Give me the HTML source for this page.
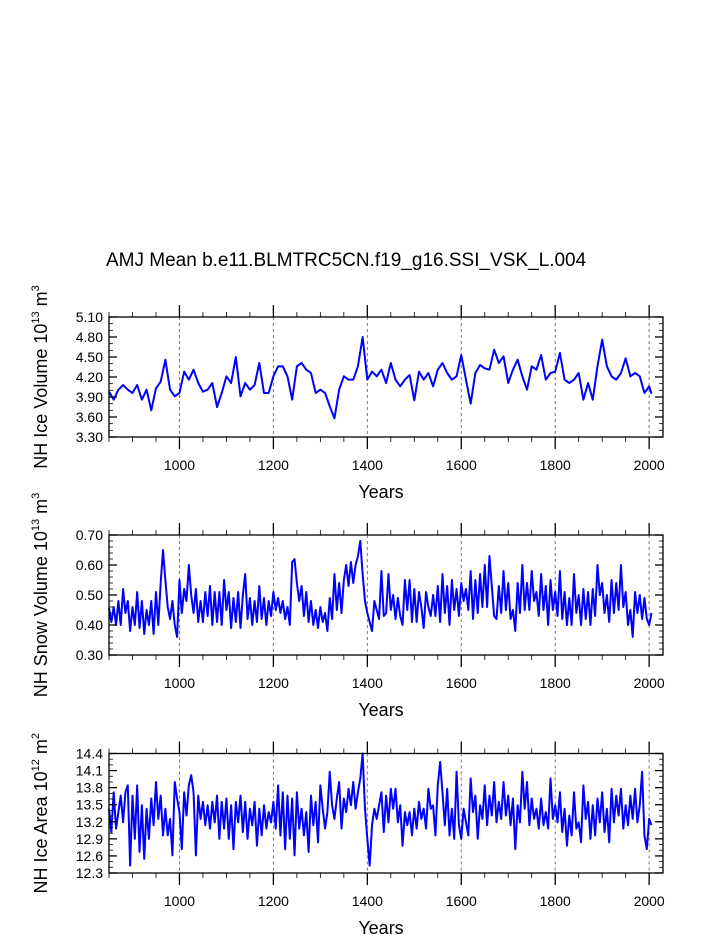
<!DOCTYPE html>
<html><head><meta charset="utf-8"><style>
body{margin:0;background:#fff;}
svg{display:block;font-family:"Liberation Sans",sans-serif;}
</style></head><body>
<svg id="chart" width="723" height="935" viewBox="0 0 723 935">
<text x="106" y="266" font-size="19">AMJ Mean b.e11.BLMTRC5CN.f19_g16.SSI_VSK_L.004</text>
</svg>
<script>
const iceVolYears=[850,860,870,880,890,900,910,920,930,940,950,960,970,980,990,1000,1010,1020,1030,1040,1050,1060,1070,1080,1090,1100,1110,1120,1130,1140,1150,1160,1170,1180,1190,1200,1210,1220,1230,1240,1250,1260,1270,1280,1290,1300,1310,1320,1330,1340,1350,1360,1370,1380,1390,1400,1410,1420,1430,1440,1450,1460,1470,1480,1490,1500,1510,1520,1530,1540,1550,1560,1570,1580,1590,1600,1610,1620,1630,1640,1650,1660,1670,1680,1690,1700,1710,1720,1730,1740,1750,1760,1770,1780,1790,1800,1810,1820,1830,1840,1850,1860,1870,1880,1890,1900,1910,1920,1930,1940,1950,1960,1970,1980,1990,2000,2005];
const iceVolValues=[3.98,3.86,4.01,4.08,4.01,3.96,4.08,3.86,4.01,3.70,4.03,4.13,4.46,4.01,3.91,3.96,4.28,4.16,4.31,4.11,3.98,4.01,4.11,3.75,3.96,4.21,4.11,4.50,3.91,4.11,4.01,4.08,4.41,3.96,3.96,4.21,4.36,4.36,4.21,3.86,4.36,4.41,4.31,4.26,3.96,4.01,3.96,3.76,3.58,4.01,4.21,4.16,4.16,4.36,4.80,4.16,4.28,4.21,4.31,4.11,4.41,4.16,4.06,4.16,4.23,3.85,4.28,4.16,4.26,4.06,4.31,4.41,4.26,4.16,4.21,4.53,4.16,3.80,4.26,4.38,4.33,4.31,4.61,4.41,4.51,4.11,4.31,4.46,4.21,4.01,4.36,4.31,4.53,4.16,4.26,4.28,4.56,4.16,4.11,4.16,4.26,3.86,4.11,3.86,4.36,4.76,4.36,4.21,4.16,4.26,4.48,4.21,4.26,4.21,3.96,4.06,3.95];
const snowStart=850;
const snowValues=[0.456,0.41,0.46,0.40,0.48,0.40,0.52,0.44,0.48,0.38,0.46,0.40,0.51,0.39,0.48,0.37,0.45,0.40,0.48,0.37,0.51,0.40,0.54,0.65,0.55,0.46,0.42,0.48,0.40,0.36,0.55,0.44,0.52,0.48,0.60,0.50,0.44,0.52,0.41,0.48,0.41,0.51,0.43,0.53,0.40,0.51,0.41,0.51,0.40,0.55,0.45,0.51,0.39,0.49,0.41,0.51,0.39,0.50,0.57,0.42,0.49,0.40,0.48,0.41,0.53,0.42,0.49,0.40,0.48,0.43,0.51,0.45,0.49,0.44,0.48,0.42,0.46,0.40,0.61,0.62,0.54,0.48,0.53,0.43,0.51,0.41,0.48,0.40,0.45,0.39,0.46,0.41,0.44,0.38,0.49,0.42,0.57,0.45,0.54,0.44,0.55,0.60,0.53,0.61,0.54,0.60,0.63,0.68,0.57,0.48,0.44,0.41,0.38,0.48,0.45,0.42,0.58,0.43,0.44,0.57,0.45,0.50,0.42,0.49,0.43,0.40,0.55,0.45,0.55,0.41,0.52,0.41,0.51,0.46,0.39,0.51,0.46,0.43,0.50,0.43,0.53,0.41,0.57,0.44,0.53,0.40,0.55,0.45,0.52,0.43,0.54,0.48,0.52,0.45,0.58,0.42,0.55,0.44,0.57,0.46,0.60,0.46,0.63,0.53,0.43,0.42,0.53,0.44,0.58,0.45,0.54,0.42,0.45,0.38,0.54,0.44,0.60,0.45,0.54,0.45,0.58,0.48,0.51,0.43,0.57,0.45,0.53,0.40,0.55,0.45,0.51,0.43,0.58,0.42,0.51,0.40,0.49,0.40,0.57,0.44,0.50,0.40,0.52,0.42,0.51,0.40,0.52,0.43,0.60,0.50,0.54,0.44,0.50,0.41,0.55,0.44,0.54,0.45,0.60,0.46,0.51,0.40,0.45,0.36,0.51,0.44,0.50,0.42,0.49,0.42,0.40,0.44];
const areaStart=850;
const areaValues=[13.43,13.02,13.72,13.08,13.37,13.66,13.19,13.72,13.84,12.43,13.66,12.90,13.84,12.67,13.49,12.55,13.43,12.90,13.61,13.14,13.90,13.25,13.66,12.96,13.43,12.96,13.25,12.61,13.90,13.61,13.37,12.72,13.72,13.31,13.84,14.02,13.72,12.61,13.66,13.25,13.55,13.14,13.49,13.08,13.55,13.19,13.66,12.90,13.55,13.08,13.61,12.90,13.49,12.72,13.55,13.19,13.66,13.02,13.55,12.90,13.43,13.14,13.55,12.78,13.43,12.96,13.49,13.08,13.37,13.19,13.55,13.08,13.84,12.96,13.72,12.72,13.66,12.90,13.61,12.61,13.72,13.08,13.43,12.96,13.37,12.67,13.66,13.14,13.55,12.84,13.84,13.43,13.08,13.37,14.08,13.49,13.25,13.61,13.90,13.08,13.61,13.37,13.78,13.49,13.90,13.43,13.72,13.96,14.40,13.43,12.90,12.43,13.14,13.43,13.25,13.49,13.72,13.02,13.66,13.19,13.78,13.43,13.78,13.19,13.49,12.78,13.37,13.14,13.37,12.96,13.43,13.08,13.55,13.25,13.43,13.08,13.78,13.43,13.49,12.96,13.84,14.25,13.72,13.14,13.78,12.96,13.43,12.90,14.08,13.14,12.90,13.43,13.19,12.96,13.96,13.37,13.66,12.90,13.49,13.25,13.84,13.14,13.66,13.31,13.90,13.19,13.55,13.25,13.90,13.31,13.66,13.14,13.61,12.72,13.49,13.19,14.08,13.43,13.90,13.14,13.61,13.25,13.43,13.08,13.61,13.14,13.37,13.08,13.96,13.25,13.49,13.19,13.72,13.02,13.43,12.78,13.31,12.96,13.72,13.08,13.19,12.84,13.84,13.25,13.55,12.90,13.49,12.96,13.61,13.19,13.72,13.02,13.43,12.84,13.78,13.19,13.66,13.31,13.78,13.08,13.49,13.14,13.66,13.25,13.78,13.19,13.49,14.08,12.96,12.72,13.25,13.14];
const xTicks=[1000,1200,1400,1600,1800,2000];
const panel1Ticks=["3.30","3.60","3.90","4.20","4.50","4.80","5.10"];
const panel2Ticks=["0.30","0.40","0.50","0.60","0.70"];
const panel3Ticks=["12.3","12.6","12.9","13.2","13.5","13.8","14.1","14.4"];

const svg=document.getElementById('chart');
const NS='http://www.w3.org/2000/svg';
const X0=109,X1=663,YMIN=850,YMAX=2029.5;
function xs(yr){return X0+(yr-YMIN)/(YMAX-YMIN)*(X1-X0);}
function mk(tag,attrs,parent){const e=document.createElementNS(NS,tag);for(const k in attrs)e.setAttribute(k,attrs[k]);(parent||svg).appendChild(e);return e;}

function panel(cfg){
  const g=mk('g',{});
  
  
  const T=cfg.top,B=cfg.bottom;
  const ys=v=>B-(v-cfg.vmin)/(cfg.vmax-cfg.vmin)*(B-T);
  xTicks.forEach(t=>{const l=mk('line',{x1:xs(t),x2:xs(t),y1:T,y2:B,stroke:'#777','stroke-width':1,'stroke-dasharray':'3,3'},g);
    
    });
  let pts=cfg.xsArr.map((yr,i)=>xs(yr).toFixed(2)+','+ys(cfg.vals[i]).toFixed(2)).join(' ');
  const pl=mk('polyline',{points:pts,fill:'none',stroke:'#0000ff','stroke-width':2,'stroke-linejoin':'round'},g);
  
  
  const r=mk('rect',{x:X0,y:T,width:X1-X0,height:B-T,fill:'none',stroke:'#000','stroke-width':1.3},g);
  
  
  for(let yr=850;yr<=2000;yr+=50){
    const major=yr%200===0;const len=major?12:5;const x=xs(yr);
    mk('line',{x1:x,x2:x,y1:T,y2:T-len,stroke:'#000','stroke-width':major?1.3:0.8},g);
    mk('line',{x1:x,x2:x,y1:B,y2:B+len,stroke:'#000','stroke-width':major?1.3:0.8},g);
  }
  xTicks.forEach(t=>{const tx=mk('text',{x:xs(t),y:B+33,'font-size':14,'text-anchor':'middle'},g);tx.textContent=t;
    
    });
  const xl=mk('text',{x:381,y:B+61,'font-size':18,'text-anchor':'middle'},g);xl.textContent='Years';
  
  
  const n=Math.round((cfg.vmax-cfg.vmin)/cfg.minor);
  for(let i=0;i<=n;i++){
    const v=cfg.vmin+i*cfg.minor;const y=ys(v);
    const major=i%cfg.ratio===0;const len=major?8:4;
    mk('line',{x1:X0,x2:X0+len,y1:y,y2:y,stroke:'#000','stroke-width':major?1.3:0.8},g);
    mk('line',{x1:X1,x2:X1-len,y1:y,y2:y,stroke:'#000','stroke-width':major?1.3:0.8},g);
  }
  cfg.labels.forEach((lab,i)=>{const y=ys(cfg.vmin+i*cfg.minor*cfg.ratio);
    const tx=mk('text',{x:103,y:y+5,'font-size':14,'text-anchor':'end'},g);tx.textContent=lab;
    
    });
  const cy=(T+B)/2;
  const yt=mk('text',{x:0,y:0,'font-size':18,'text-anchor':'middle',transform:'translate(47,'+cy+') rotate(-90)'},g);
  
  
  yt.innerHTML=cfg.title+' 10<tspan font-size="11" dy="-8">'+cfg.exp+'</tspan><tspan dy="8"> m</tspan><tspan font-size="11" dy="-8">'+cfg.unitExp+'</tspan>';
}
function seq(start,len){const a=[];for(let i=0;i<len;i++)a.push(start+5*i);return a;}
panel({name:'ice-volume',top:317,bottom:437,vmin:3.3,vmax:5.1,minor:0.1,ratio:3,labels:panel1Ticks,xsArr:iceVolYears,vals:iceVolValues,title:'NH Ice Volume',exp:'13',unitExp:'3'});
panel({name:'snow-volume',top:535,bottom:655,vmin:0.3,vmax:0.7,minor:0.02,ratio:5,labels:panel2Ticks,xsArr:seq(snowStart,snowValues.length),vals:snowValues,title:'NH Snow Volume',exp:'13',unitExp:'3'});
panel({name:'ice-area',top:753.5,bottom:873,vmin:12.3,vmax:14.4,minor:0.1,ratio:3,labels:panel3Ticks,xsArr:seq(areaStart,areaValues.length),vals:areaValues,title:'NH Ice Area',exp:'12',unitExp:'2'});
</script>
</body></html>
